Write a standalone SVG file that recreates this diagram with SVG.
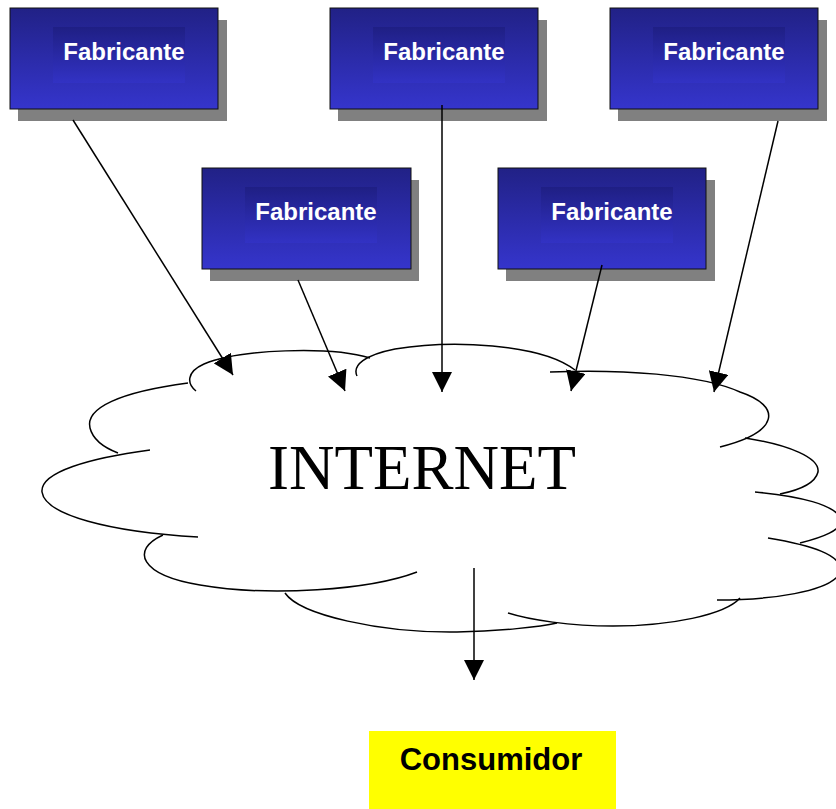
<svg xmlns="http://www.w3.org/2000/svg" width="836" height="809" viewBox="0 0 836 809">
<defs>
<linearGradient id="blue" x1="0" y1="0" x2="0" y2="1">
<stop offset="0" stop-color="#212186"/>
<stop offset="1" stop-color="#3535cc"/>
</linearGradient>
<linearGradient id="blueIn" x1="0" y1="0" x2="0" y2="1">
<stop offset="0" stop-color="#1f1f84"/>
<stop offset="1" stop-color="#3232c4"/>
</linearGradient>
<marker id="ah" markerUnits="userSpaceOnUse" markerWidth="20" markerHeight="20" refX="20" refY="10" orient="auto">
<path d="M0,0 L20,10 L0,20 z" fill="#000"/>
</marker>
<style>
.shadow{fill:#808080}
.box{fill:url(#blue);stroke:#111;stroke-width:1}
.inner{fill:url(#blueIn)}
.lbl{font-family:"Liberation Sans",Arial,sans-serif;font-weight:bold;font-size:24px;fill:#fff;text-anchor:middle}
.cloud{fill:none;stroke:#000;stroke-width:1.5}
.conn{stroke:#000;stroke-width:1.5;fill:none;marker-end:url(#ah)}
</style>
</defs>
<rect width="836" height="809" fill="#fff"/>

<g id="cloud">
<path class="cloud" d="M196,391 C187,384 186,372 204,364 C240,349 330,346 370,358"/>
<path class="cloud" d="M357,376 C352,365 365,355 395,349 C450,340 540,343 575,370"/>
<path class="cloud" d="M550,372 C620,369 700,374 740,392 C782,406 780,432 720,447"/>
<path class="cloud" d="M745,438 C790,445 820,458 818,472 C815,484 800,490 780,494"/>
<path class="cloud" d="M755,492 C800,496 835,505 840,518 C845,530 820,538 800,543"/>
<path class="cloud" d="M768,538 C810,545 845,555 840,573 C830,592 770,600 717,600"/>
<path class="cloud" d="M740,598 C725,615 670,626 613,626 C570,626 530,620 508,613"/>
<path class="cloud" d="M285,593 C300,615 380,633 457,632 C500,631 540,627 557,623"/>
<path class="cloud" d="M163,535 C130,550 140,575 200,585 C270,597 370,590 417,572"/>
<path class="cloud" d="M150,450 C90,458 40,472 42,492 C45,515 110,532 198,537"/>
<path class="cloud" d="M188,383 C120,392 85,408 90,428 C93,440 105,448 118,453"/>
<text x="422" y="489" font-family="'Liberation Serif','Times New Roman',serif" font-size="63" text-anchor="middle" fill="#000">INTERNET</text>
</g>

<g id="fab1">
<rect class="shadow" x="18" y="20" width="209" height="101"/>
<rect class="box" x="10" y="8" width="208" height="101"/>
<rect class="inner" x="53" y="27" width="132" height="56"/>
<text class="lbl" x="124" y="60">Fabricante</text>
</g>
<g id="fab2">
<rect class="shadow" x="338" y="20" width="209" height="101"/>
<rect class="box" x="330" y="8" width="208" height="101"/>
<rect class="inner" x="373" y="27" width="132" height="56"/>
<text class="lbl" x="444" y="60">Fabricante</text>
</g>
<g id="fab3">
<rect class="shadow" x="618" y="20" width="209" height="101"/>
<rect class="box" x="610" y="8" width="208" height="101"/>
<rect class="inner" x="653" y="27" width="132" height="56"/>
<text class="lbl" x="724" y="60">Fabricante</text>
</g>
<g id="fab4">
<rect class="shadow" x="210" y="180" width="209" height="101"/>
<rect class="box" x="202" y="168" width="209" height="101"/>
<rect class="inner" x="245" y="187" width="132" height="56"/>
<text class="lbl" x="316" y="220">Fabricante</text>
</g>
<g id="fab5">
<rect class="shadow" x="506" y="180" width="209" height="101"/>
<rect class="box" x="498" y="168" width="208" height="101"/>
<rect class="inner" x="541" y="187" width="132" height="56"/>
<text class="lbl" x="612" y="220">Fabricante</text>
</g>

<g id="consumidor">
<rect x="369" y="731" width="247" height="78" fill="#ffff00"/>
<text x="491" y="770" font-family="'Liberation Sans',Arial,sans-serif" font-weight="bold" font-size="31" text-anchor="middle" fill="#000">Consumidor</text>
</g>

<g id="connectors">
<line class="conn" x1="73" y1="120" x2="233" y2="375"/>
<line class="conn" x1="298" y1="280" x2="345" y2="391"/>
<line class="conn" x1="442" y1="105" x2="442" y2="392"/>
<line class="conn" x1="602" y1="265" x2="571" y2="391"/>
<line class="conn" x1="778" y1="121" x2="714" y2="392"/>
<line class="conn" x1="474" y1="568" x2="474" y2="680"/>
</g>
</svg>
